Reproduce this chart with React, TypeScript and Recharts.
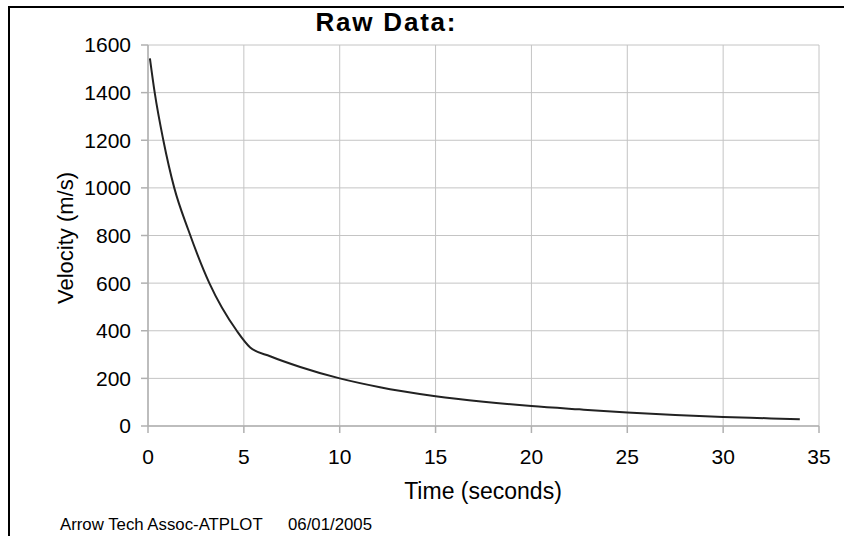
import React from 'react';
import { LineChart, Line, XAxis, YAxis, CartesianGrid } from 'recharts';

// values
const timeSeconds = [0.1, 0.35, 0.8, 1.37, 2.1, 3.2, 4.63, 5.33, 6.37, 7.94, 10, 12.1, 13.2, 15, 17.5, 20, 22.5, 25, 27.5, 30, 32.5, 34];
const velocity = [1544, 1400, 1200, 1000, 824, 600, 400, 330, 293, 248, 200, 163, 147, 125, 102, 84, 70, 57, 46, 38, 32, 28];

const xTicks = [0, 5, 10, 15, 20, 25, 30, 35];
const yTicks = [0, 200, 400, 600, 800, 1000, 1200, 1400, 1600];

const chartTitle = 'Raw Data:';
const xLabel = 'Time (seconds)';
const yLabel = 'Velocity (m/s)';
const footerName = 'Arrow Tech Assoc-ATPLOT';
const footerDate = '06/01/2005';

const data = timeSeconds.map((t, i) => ({ t, v: velocity[i] }));

const FONT = '"Liberation Sans", Arial, Helvetica, sans-serif';
const GRID = '#c4c4c4';
const AXIS = '#b0b0b0';

const App: React.FC = () => {
  return (
    <div
      style={{
        position: 'absolute',
        left: 0,
        top: 0,
        width: 844,
        height: 536,
        background: '#fff',
        fontFamily: FONT,
        overflow: 'hidden'
      }}
    >
      <div style={{ position: 'absolute', left: 0, top: 0 }}>
        <LineChart
          width={844}
          height={536}
          data={data}
          margin={{ top: 45, right: 25, bottom: 0, left: 0 }}
        >
          <CartesianGrid stroke={GRID} strokeWidth={1} />
          <XAxis
            dataKey="t"
            type="number"
            domain={[0, 35]}
            ticks={xTicks}
            interval={0}
            height={110}
            tickSize={7}
            tickMargin={16}
            stroke={AXIS}
            axisLine={{ stroke: AXIS, strokeWidth: 1.5 }}
            tickLine={{ stroke: AXIS, strokeWidth: 1.5 }}
            tick={{ fill: '#000', fontSize: 21, fontFamily: FONT }}
          />
          <YAxis
            type="number"
            domain={[0, 1600]}
            ticks={yTicks}
            interval={0}
            width={148}
            tickSize={7}
            tickMargin={10}
            stroke={AXIS}
            axisLine={{ stroke: AXIS, strokeWidth: 1.5 }}
            tickLine={{ stroke: AXIS, strokeWidth: 1.5 }}
            tick={{ fill: '#000', fontSize: 21, fontFamily: FONT }}
          />
          <Line
            type="monotone"
            dataKey="v"
            stroke="#222"
            strokeWidth={2}
            dot={false}
            isAnimationActive={false}
          />
        </LineChart>
      </div>

      <svg
        width={844}
        height={536}
        style={{ position: 'absolute', left: 0, top: 0, pointerEvents: 'none' }}
      >
        <line x1={8} y1={7} x2={844} y2={7} stroke="#000" strokeWidth={2} />
        <line x1={9} y1={6} x2={9} y2={536} stroke="#000" strokeWidth={2} />
        <text
          x={385.5}
          y={31}
          textAnchor="middle"
          fontSize={26}
          fontWeight="bold"
          fontFamily={FONT}
          textLength={140}
          lengthAdjust="spacing"
        >
          {chartTitle}
        </text>
        <text x={483} y={499} textAnchor="middle" fontSize={23} fontFamily={FONT}>
          {xLabel}
        </text>
        <text
          transform="translate(73, 238) rotate(-90)"
          textAnchor="middle"
          fontSize={22}
          fontFamily={FONT}
        >
          {yLabel}
        </text>
        <text x={60} y={529.5} fontSize={16.8} fontFamily={FONT}>
          {footerName}
        </text>
        <text x={288} y={529.5} fontSize={16.8} fontFamily={FONT}>
          {footerDate}
        </text>
      </svg>
    </div>
  );
};

export default App;
